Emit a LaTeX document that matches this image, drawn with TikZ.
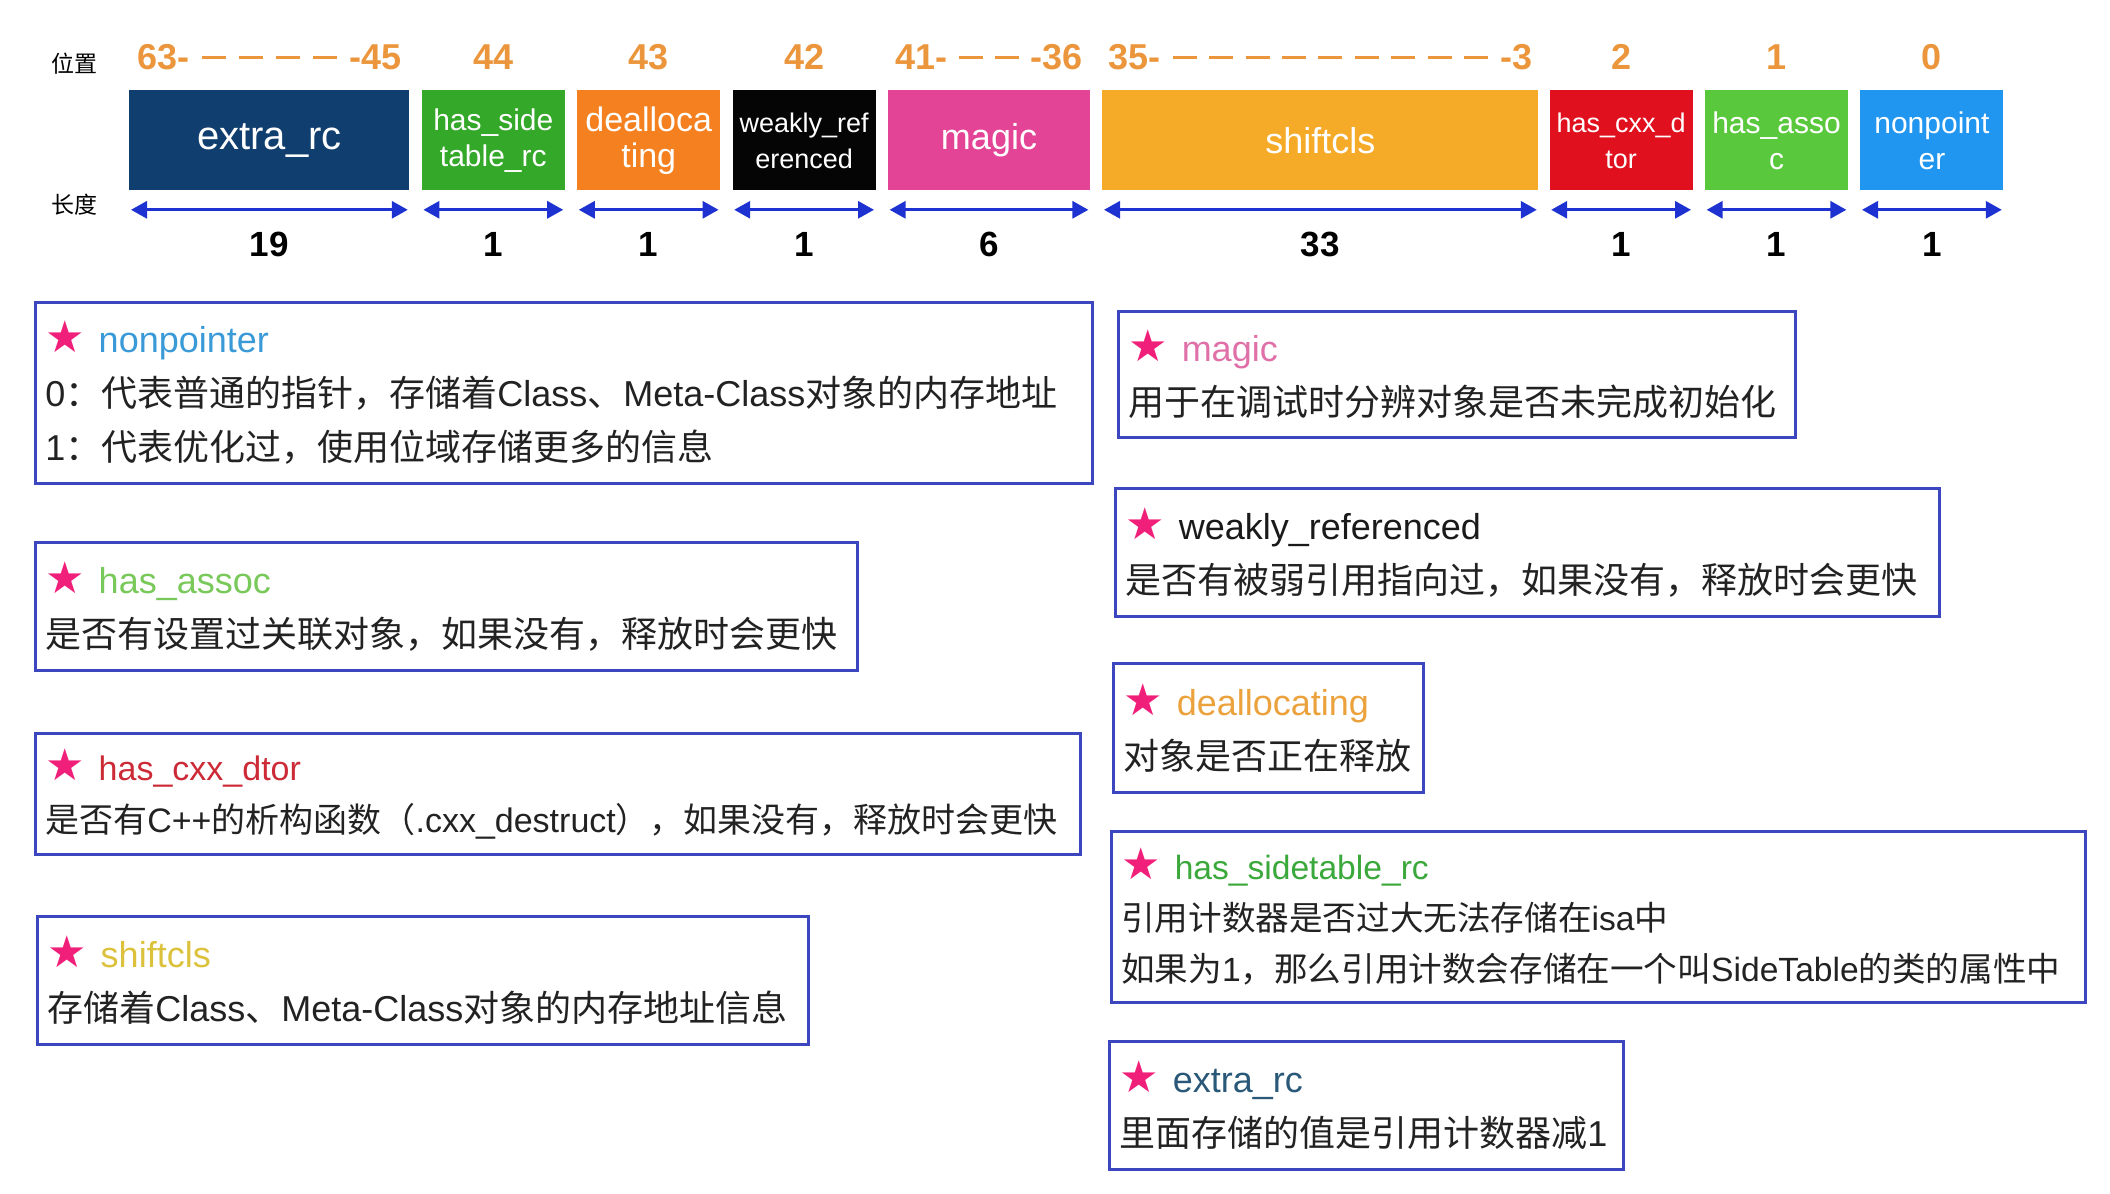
\documentclass[tikz,border=0pt]{standalone}
\usepackage{fontspec}
\setmainfont{Liberation Sans}
\newfontfamily\cjk{Noto Sans CJK SC}
\newfontfamily\symf{DejaVu Sans}
\usetikzlibrary{positioning,arrows.meta}
\setlength{\parindent}{0pt}

\definecolor{extcol}{HTML}{103E6E}
\definecolor{sidecol}{HTML}{34A828}
\definecolor{dealcol}{HTML}{F5801F}
\definecolor{weakcol}{HTML}{050505}
\definecolor{magiccol}{HTML}{E44496}
\definecolor{shiftcol}{HTML}{F5AA28}
\definecolor{cxxcol}{HTML}{E0101E}
\definecolor{assoccol}{HTML}{5AC83C}
\definecolor{nptrcol}{HTML}{2096F0}
\definecolor{posorange}{HTML}{EB963C}
\definecolor{arrowblue}{HTML}{1E32D2}
\definecolor{descblue}{HTML}{3C46BE}
\definecolor{starpink}{HTML}{F0207A}
\definecolor{bodytext}{HTML}{222222}
% heading colours of the description boxes
\definecolor{hnptr}{HTML}{3A9AD8}
\definecolor{hassoc}{HTML}{78C85A}
\definecolor{hcxx}{HTML}{CC2A36}
\definecolor{hshift}{HTML}{DCC23C}
\definecolor{hmagic}{HTML}{E070A8}
\definecolor{hweak}{HTML}{1A1A1A}
\definecolor{hdeal}{HTML}{ECA23C}
\definecolor{hside}{HTML}{3AA83A}
\definecolor{hext}{HTML}{2A5878}

\newcommand{\zh}[1]{{\cjk #1}}
\newcommand{\hd}[2]{{\symf\fontsize{22}{22}\selectfont\color{starpink}★}\hspace{7pt}{\color{#1}#2}}
\newcommand{\dsh}{\hfill\rule[5pt]{12pt}{1.8pt}}

\begin{document}
\begin{tikzpicture}[x=0.5pt, y=-0.5pt]
    \tikzstyle{bit} = [rectangle, inner sep=0pt, minimum height=50pt, text=white, align=center]
    \tikzstyle{bitsmall} = [bit, minimum width=71.5pt, font=\fontsize{15}{18}\selectfont]
    \tikzstyle{poslbl} = [inner sep=0pt, text=posorange, font=\fontsize{18}{18}\selectfont\bfseries]
    \tikzstyle{lenlbl} = [inner sep=0pt, font=\fontsize{17.5}{18}\selectfont\bfseries]
    \tikzstyle{dimarrow} = [draw=arrowblue, line width=1.5pt, {Triangle[length=8pt,width=8.5pt]}-{Triangle[length=8pt,width=8.5pt]}, shorten <=1pt, shorten >=1pt]
    \tikzstyle{desc} = [rectangle, draw=descblue, line width=1.3pt, anchor=north west, inner xsep=5pt, inner ysep=0pt, align=left, text=bodytext, font=\fontsize{18}{27}\selectfont]

    \useasboundingbox (0,0) rectangle (2110,1194);

    % isa bit fields, high bits first
    \node [bit, anchor=north west, minimum width=140pt, fill=extcol, font=\fontsize{20}{24}\selectfont] (ext) at (129,90) {extra\_rc};
    \node [bitsmall, fill=sidecol, right=5.8pt of ext] (side) {has\_side\\table\_rc};
    \node [bitsmall, fill=dealcol, right=5.8pt of side, font=\fontsize{17}{18}\selectfont] (deal) {dealloca\\ting};
    \node [bitsmall, fill=weakcol, right=5.8pt of deal, font=\fontsize{13.5}{18}\selectfont] (weak) {weakly\_ref\\erenced};
    \node [bit, fill=magiccol, minimum width=101pt, right=5.8pt of weak, font=\fontsize{18}{20}\selectfont] (magic) {magic};
    \node [bit, fill=shiftcol, minimum width=218pt, right=5.8pt of magic, font=\fontsize{18}{20}\selectfont] (shift) {shiftcls};
    \node [bitsmall, fill=cxxcol, right=5.2pt of shift, font=\fontsize{13.5}{18}\selectfont] (cxx) {has\_cxx\_d\\tor};
    \node [bitsmall, fill=assoccol, right=5.8pt of cxx] (assoc) {has\_asso\\c};
    \node [bitsmall, fill=nptrcol, right=5.8pt of assoc] (nptr) {nonpoint\\er};

    % bit positions
    \node [poslbl, above=10pt of ext] (pext) {\makebox[132pt]{63-\dsh\dsh\dsh\dsh\hfill-45}};
    \node [poslbl, above=10pt of side] (pside) {44};
    \node [poslbl, above=10pt of deal] (pdeal) {43};
    \node [poslbl, above=10pt of weak] (pweak) {42};
    \node [poslbl, above=10pt of magic] (pmagic) {\makebox[93.5pt]{41-\dsh\dsh\hfill-36}};
    \node [poslbl, above=10pt of shift] (pshift) {\makebox[212pt]{35-\dsh\dsh\dsh\dsh\dsh\dsh\dsh\dsh\dsh\hfill-3}};
    \node [poslbl, above=10pt of cxx] (pcxx) {2};
    \node [poslbl, above=10pt of assoc] (passoc) {1};
    \node [poslbl, above=10pt of nptr] (pnptr) {0};

    % lengths
    \node [lenlbl, below=20.5pt of ext] (lext) {19};
    \node [lenlbl, below=20.5pt of side] (lside) {1};
    \node [lenlbl, below=20.5pt of deal] (ldeal) {1};
    \node [lenlbl, below=20.5pt of weak] (lweak) {1};
    \node [lenlbl, below=20.5pt of magic] (lmagic) {6};
    \node [lenlbl, below=20.5pt of shift] (lshift) {33};
    \node [lenlbl, below=20.5pt of cxx] (lcxx) {1};
    \node [lenlbl, below=20.5pt of assoc] (lassoc) {1};
    \node [lenlbl, below=20.5pt of nptr] (lnptr) {1};

    \draw [dimarrow] ([yshift=-9.5pt]ext.south west) -- ([yshift=-9.5pt]ext.south east);
    \draw [dimarrow] ([yshift=-9.5pt]side.south west) -- ([yshift=-9.5pt]side.south east);
    \draw [dimarrow] ([yshift=-9.5pt]deal.south west) -- ([yshift=-9.5pt]deal.south east);
    \draw [dimarrow] ([yshift=-9.5pt]weak.south west) -- ([yshift=-9.5pt]weak.south east);
    \draw [dimarrow] ([yshift=-9.5pt]magic.south west) -- ([yshift=-9.5pt]magic.south east);
    \draw [dimarrow] ([yshift=-9.5pt]shift.south west) -- ([yshift=-9.5pt]shift.south east);
    \draw [dimarrow] ([yshift=-9.5pt]cxx.south west) -- ([yshift=-9.5pt]cxx.south east);
    \draw [dimarrow] ([yshift=-9.5pt]assoc.south west) -- ([yshift=-9.5pt]assoc.south east);
    \draw [dimarrow] ([yshift=-9.5pt]nptr.south west) -- ([yshift=-9.5pt]nptr.south east);

    % row titles
    \node [font=\cjk\fontsize{11.5}{12}\selectfont] (wz) at (74,64) {位置};
    \node [font=\cjk\fontsize{11.5}{12}\selectfont] (cd) at (74,205) {长度};

    % descriptions, left column
    \node [desc, text width=518.5pt, minimum height=90.5pt] (dnptr) at (34,301)
        {\hd{hnptr}{nonpointer}\\
         0\zh{：代表普通的指针，存储着}Class\zh{、}Meta-Class\zh{对象的内存地址}\\
         1\zh{：代表优化过，使用位域存储更多的信息}};
    \node [desc, text width=401pt, minimum height=64pt] (dassoc) at (34,541)
        {\hd{hassoc}{has\_assoc}\\
         \zh{是否有设置过关联对象，如果没有，释放时会更快}};
    \node [desc, text width=512.5pt, minimum height=60.5pt, font=\fontsize{17}{26}\selectfont] (dcxx) at (34,732)
        {\hd{hcxx}{has\_cxx\_dtor}\\
         \zh{是否有}C++\zh{的析构函数（}.cxx\_destruct\zh{），如果没有，释放时会更快}};
    \node [desc, text width=375.5pt, minimum height=64pt] (dshift) at (36,915)
        {\hd{hshift}{shiftcls}\\
         \zh{存储着}Class\zh{、}Meta-Class\zh{对象的内存地址信息}};

    % descriptions, right column
    \node [desc, text width=328.5pt, minimum height=63pt] (dmagic) at (1117,310)
        {\hd{hmagic}{magic}\\
         \zh{用于在调试时分辨对象是否未完成初始化}};
    \node [desc, text width=402pt, minimum height=64pt] (dweak) at (1114,487)
        {\hd{hweak}{weakly\_referenced}\\
         \zh{是否有被弱引用指向过，如果没有，释放时会更快}};
    \node [desc, text width=145pt, minimum height=64.5pt] (ddeal) at (1112,662)
        {\hd{hdeal}{deallocating}\\
         \zh{对象是否正在释放}};
    \node [desc, text width=477pt, minimum height=85.5pt, font=\fontsize{16.8}{25.5}\selectfont] (dside) at (1110,830)
        {\hd{hside}{has\_sidetable\_rc}\\
         \zh{引用计数器是否过大无法存储在}isa\zh{中}\\
         \zh{如果为}1\zh{，那么引用计数会存储在一个叫}SideTable\zh{的类的属性中}};
    \node [desc, text width=247pt, minimum height=64pt] (dext) at (1108,1040)
        {\hd{hext}{extra\_rc}\\
         \zh{里面存储的值是引用计数器减}1};
\end{tikzpicture}
\end{document}
